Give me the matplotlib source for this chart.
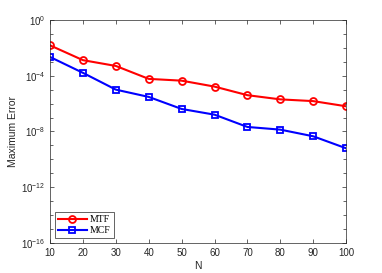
import matplotlib
matplotlib.use("Agg")
import matplotlib.pyplot as plt
import matplotlib.ticker as mticker

N = [10, 20, 30, 40, 50, 60, 70, 80, 90, 100]
mtf = [1.5e-2, 1.3e-3, 5e-4, 5.9e-5, 4.4e-5, 1.65e-5, 4e-6, 2e-6, 1.5e-6, 6.4e-7]
mcf = [2.2e-3, 1.6e-4, 1e-5, 3e-6, 4.1e-7, 1.6e-7, 2.1e-8, 1.35e-8, 4.5e-9, 6.2e-10]
ytick_vals = [1e-16, 1e-12, 1e-8, 1e-4, 1e0]

plt.rcParams['font.family'] = ['Liberation Sans', 'DejaVu Sans']
fig = plt.figure(figsize=(3.82, 2.73), dpi=100)
ax = fig.add_axes([0.131, 0.110, 0.775, 0.817])
txt = '#262626'
ax.semilogy(N, mtf, '-o', color='red', lw=1.5, ms=5, mfc='none', mew=1.3, label='MTF')
ax.semilogy(N, mcf, '-s', color='blue', lw=1.5, ms=4.5, mfc='none', mew=1.3, label='MCF')
ax.set_xlim(10, 100)
ax.set_ylim(1e-16, 1e0)
ax.set_xticks(N)
ax.set_yticks(ytick_vals)
ax.yaxis.set_minor_locator(mticker.LogLocator(base=10, subs=[1.0], numticks=30))
ax.yaxis.set_minor_formatter(mticker.NullFormatter())
ax.tick_params(which='both', direction='in', top=True, right=True, labelsize=7, colors=txt, width=0.5)
ax.tick_params(which='major', length=3)
ax.tick_params(which='minor', length=2)
for s in ax.spines.values():
    s.set_linewidth(0.5)
    s.set_color(txt)
ax.set_xlabel('N', fontsize=7.5, color=txt, labelpad=2)
ax.set_ylabel('Maximum Error', fontsize=7.5, color=txt, labelpad=2)
leg = ax.legend(loc='lower left', prop={'family': 'Liberation Serif', 'size': 7}, fancybox=False,
                edgecolor=txt, framealpha=1, handlelength=3, borderpad=0.3, labelspacing=0.2,
                handletextpad=0.3)
leg.get_frame().set_linewidth(0.5)
fig.savefig('out.png', dpi=100)
